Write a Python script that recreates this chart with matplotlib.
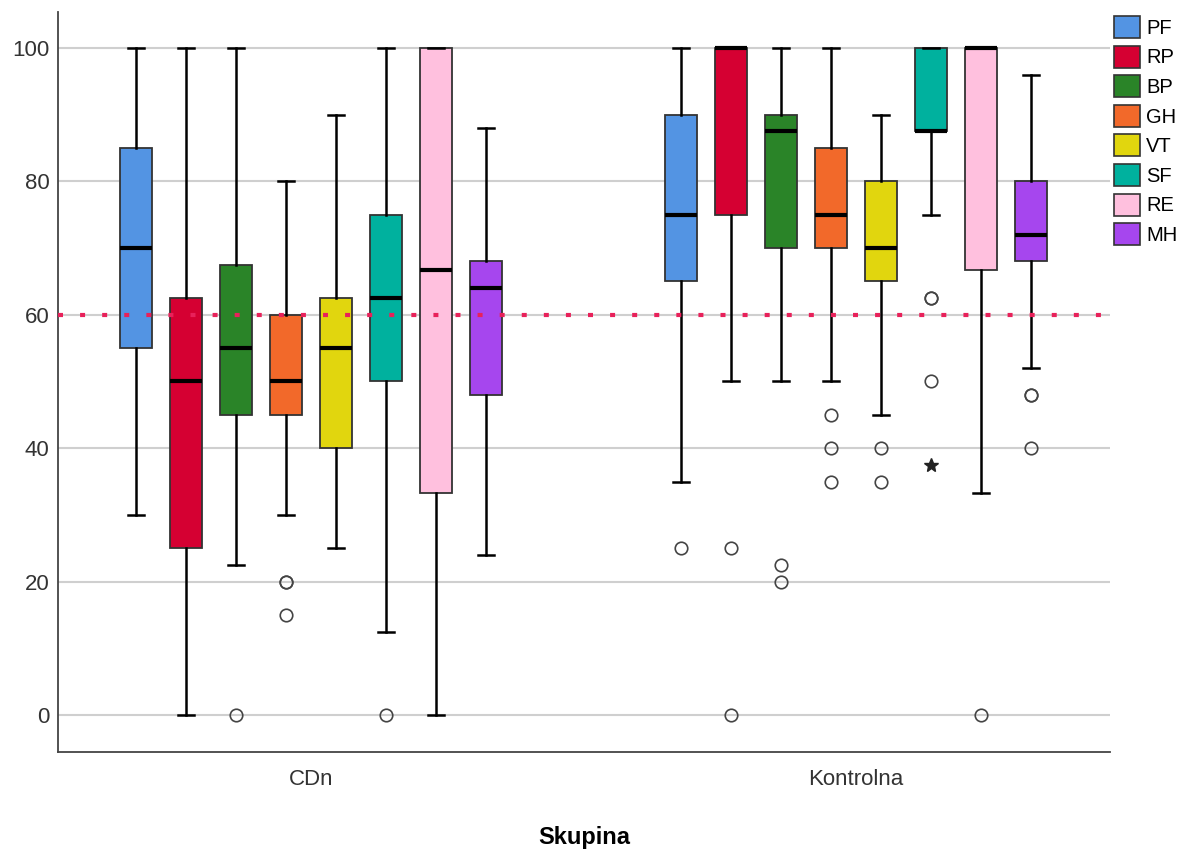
import matplotlib
matplotlib.use("Agg")
import matplotlib.pyplot as plt
from matplotlib.patches import Patch

plt.rcParams['font.family'] = ['Liberation Sans', 'DejaVu Sans']

group_names = ['CDn', 'Kontrolna']
scales = ['PF', 'RP', 'BP', 'GH', 'VT', 'SF', 'RE', 'MH']
colors = ['#5394E3', '#D50032', '#2A8428', '#F2692A', '#E1D60E', '#00B19E', '#FFC0DE', '#A646EE']

# CDn group
cdn_whislo = [30, 0, 22.5, 30, 25, 12.5, 0, 24]
cdn_q1 = [55, 25, 45, 45, 40, 50, 33.3, 48]
cdn_med = [70, 50, 55, 50, 55, 62.5, 66.7, 64]
cdn_q3 = [85, 62.5, 67.5, 60, 62.5, 75, 100, 68]
cdn_whishi = [100, 100, 100, 80, 90, 100, 100, 88]
cdn_fliers = [[], [], [0], [20, 20, 15], [], [0], [], []]
cdn_extremes = [[], [], [], [], [], [], [], []]

# Kontrolna group
kon_whislo = [35, 50, 50, 50, 45, 75, 33.3, 52]
kon_q1 = [65, 75, 70, 70, 65, 87.5, 66.7, 68]
kon_med = [75, 100, 87.5, 75, 70, 87.5, 100, 72]
kon_q3 = [90, 100, 90, 85, 80, 100, 100, 80]
kon_whishi = [100, 100, 100, 100, 90, 100, 100, 96]
kon_fliers = [[25], [25, 0], [22.5, 20], [45, 40, 35], [40, 35], [62.5, 62.5, 50], [0], [48, 48, 40]]
kon_extremes = [[], [], [], [], [], [37.5], [], []]

ref_line = 60
y_ticks = [0, 20, 40, 60, 80, 100]

groups = [
    (cdn_whislo, cdn_q1, cdn_med, cdn_q3, cdn_whishi, cdn_fliers, cdn_extremes),
    (kon_whislo, kon_q1, kon_med, kon_q3, kon_whishi, kon_fliers, kon_extremes),
]

fig = plt.figure(figsize=(11.84, 8.5), dpi=100)
ax = fig.add_axes([58 / 1184, 1 - 752 / 850, (1110 - 58) / 1184, (752 - 12) / 850])

step = 0.0917
width = 0.0587

for yt in y_ticks:
    ax.axhline(yt, color='#cfcfcf', lw=1.5, zorder=0)
# reference line sits on top of the boxes
ax.axhline(ref_line, color='#E8215A', lw=3, linestyle=(0, (1.2, 4.1)), zorder=6)

for k, (name, col) in enumerate(zip(scales, colors)):
    stats = []
    pos = []
    for g, (wlo, q1, med, q3, whi, fl, ex) in enumerate(groups):
        stats.append(dict(whislo=wlo[k], q1=q1[k], med=med[k], q3=q3[k], whishi=whi[k], fliers=fl[k]))
        pos.append(g + (k - 3.5) * step)
    ax.bxp(stats, positions=pos, widths=width, capwidths=width * 0.5, patch_artist=True,
           showfliers=True, manage_ticks=False,
           boxprops=dict(facecolor=col, edgecolor='#333333', lw=1.3),
           medianprops=dict(color='black', lw=3),
           whiskerprops=dict(color='black', lw=1.8),
           capprops=dict(color='black', lw=1.8),
           flierprops=dict(marker='o', markersize=9, markerfacecolor='none',
                           markeredgecolor='#444444', markeredgewidth=1.2),
           zorder=3)
    for g, grp in enumerate(groups):
        ex = grp[6][k]
        if ex:
            ax.plot([g + (k - 3.5) * step] * len(ex), ex, linestyle='none', marker='*',
                    markersize=10, color='#222222', zorder=4)

ax.set_xlim(-0.464, 1.466)
ax.set_ylim(-5.55, 105.4)
ax.set_xticks([0, 1])
ax.set_xticklabels(group_names, fontsize=16, color='#333333')
ax.set_yticks(y_ticks)
ax.set_yticklabels([str(v) for v in y_ticks], fontsize=16, color='#333333')
ax.tick_params(length=0, pad=12)
ax.tick_params(axis='y', pad=6)
ax.set_xlabel('Skupina', fontsize=17, fontweight='bold', labelpad=26)
for s in ['top', 'right']:
    ax.spines[s].set_visible(False)
for s in ['left', 'bottom']:
    ax.spines[s].set_color('#444444')
    ax.spines[s].set_linewidth(1.3)

handles = [Patch(facecolor=c, edgecolor='#333333', lw=1.2) for c in colors]
fig.legend(handles, scales, loc='upper left', bbox_to_anchor=(1106 / 1184, 1 - 8 / 850),
           frameon=False, fontsize=14.5, handlelength=1.3, handleheight=1.3,
           handletextpad=0.3, labelspacing=0.38, borderaxespad=0)

fig.savefig('out.png', dpi=100)
